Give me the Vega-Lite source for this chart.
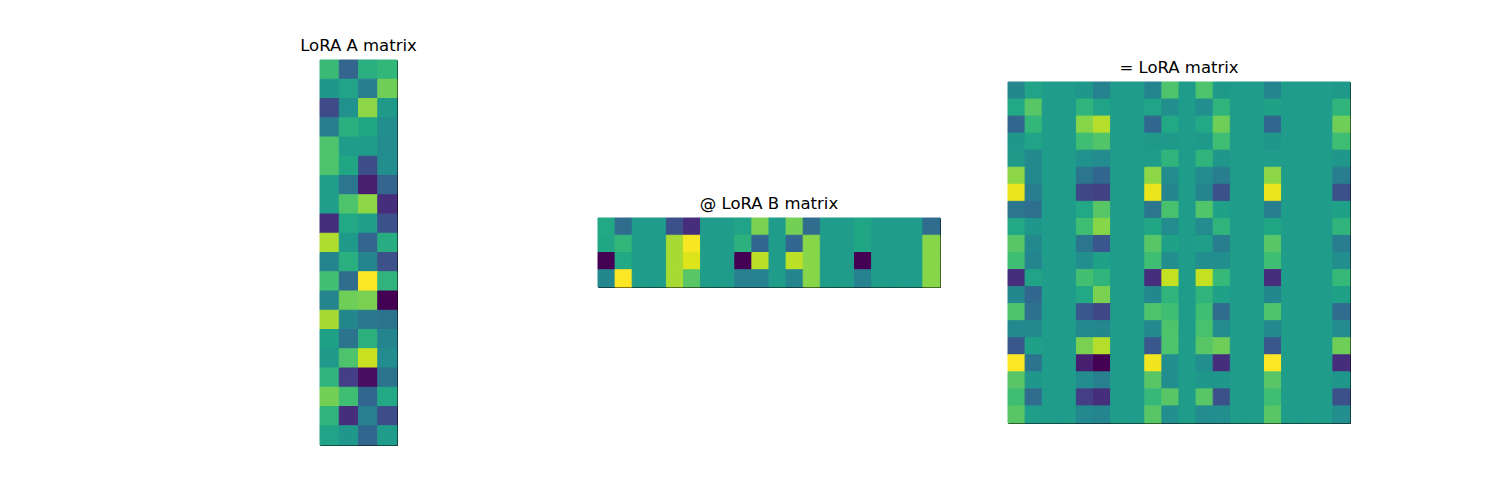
{
"$schema":"https://vega.github.io/schema/vega-lite/v6.json",
"background":"white",
"padding":{"left":299,"top":37,"right":5,"bottom":5},
"config":{"view":{"stroke":"black","strokeWidth":1},"title":{"font":"DejaVu Sans","fontSize":16.5,"fontWeight":"normal","color":"black","offset":5}},
"datasets":{
"A":[
{"r":0,"c":0,"v":0.68},{"r":0,"c":1,"v":0.32},{"r":0,"c":2,"v":0.63},{"r":0,"c":3,"v":0.66},
{"r":1,"c":0,"v":0.53},{"r":1,"c":1,"v":0.58},{"r":1,"c":2,"v":0.42},{"r":1,"c":3,"v":0.78},
{"r":2,"c":0,"v":0.22},{"r":2,"c":1,"v":0.50},{"r":2,"c":2,"v":0.83},{"r":2,"c":3,"v":0.54},
{"r":3,"c":0,"v":0.42},{"r":3,"c":1,"v":0.63},{"r":3,"c":2,"v":0.59},{"r":3,"c":3,"v":0.49},
{"r":4,"c":0,"v":0.72},{"r":4,"c":1,"v":0.55},{"r":4,"c":2,"v":0.55},{"r":4,"c":3,"v":0.48},
{"r":5,"c":0,"v":0.72},{"r":5,"c":1,"v":0.59},{"r":5,"c":2,"v":0.23},{"r":5,"c":3,"v":0.49},
{"r":6,"c":0,"v":0.56},{"r":6,"c":1,"v":0.39},{"r":6,"c":2,"v":0.08},{"r":6,"c":3,"v":0.32},
{"r":7,"c":0,"v":0.56},{"r":7,"c":1,"v":0.72},{"r":7,"c":2,"v":0.83},{"r":7,"c":3,"v":0.13},
{"r":8,"c":0,"v":0.13},{"r":8,"c":1,"v":0.60},{"r":8,"c":2,"v":0.56},{"r":8,"c":3,"v":0.24},
{"r":9,"c":0,"v":0.88},{"r":9,"c":1,"v":0.54},{"r":9,"c":2,"v":0.32},{"r":9,"c":3,"v":0.62},
{"r":10,"c":0,"v":0.45},{"r":10,"c":1,"v":0.63},{"r":10,"c":2,"v":0.45},{"r":10,"c":3,"v":0.24},
{"r":11,"c":0,"v":0.70},{"r":11,"c":1,"v":0.35},{"r":11,"c":2,"v":1.00},{"r":11,"c":3,"v":0.65},
{"r":12,"c":0,"v":0.45},{"r":12,"c":1,"v":0.78},{"r":12,"c":2,"v":0.80},{"r":12,"c":3,"v":0.00},
{"r":13,"c":0,"v":0.87},{"r":13,"c":1,"v":0.46},{"r":13,"c":2,"v":0.40},{"r":13,"c":3,"v":0.38},
{"r":14,"c":0,"v":0.57},{"r":14,"c":1,"v":0.38},{"r":14,"c":2,"v":0.64},{"r":14,"c":3,"v":0.45},
{"r":15,"c":0,"v":0.54},{"r":15,"c":1,"v":0.72},{"r":15,"c":2,"v":0.92},{"r":15,"c":3,"v":0.48},
{"r":16,"c":0,"v":0.65},{"r":16,"c":1,"v":0.18},{"r":16,"c":2,"v":0.03},{"r":16,"c":3,"v":0.38},
{"r":17,"c":0,"v":0.79},{"r":17,"c":1,"v":0.69},{"r":17,"c":2,"v":0.33},{"r":17,"c":3,"v":0.60},
{"r":18,"c":0,"v":0.65},{"r":18,"c":1,"v":0.13},{"r":18,"c":2,"v":0.43},{"r":18,"c":3,"v":0.23},
{"r":19,"c":0,"v":0.58},{"r":19,"c":1,"v":0.53},{"r":19,"c":2,"v":0.33},{"r":19,"c":3,"v":0.55}
],
"B":[
{"r":0,"c":0,"v":0.60},{"r":0,"c":1,"v":0.35},{"r":0,"c":2,"v":0.55},{"r":0,"c":3,"v":0.55},{"r":0,"c":4,"v":0.24},{"r":0,"c":5,"v":0.13},{"r":0,"c":6,"v":0.55},{"r":0,"c":7,"v":0.55},{"r":0,"c":8,"v":0.58},{"r":0,"c":9,"v":0.80},{"r":0,"c":10,"v":0.55},{"r":0,"c":11,"v":0.79},{"r":0,"c":12,"v":0.35},{"r":0,"c":13,"v":0.55},{"r":0,"c":14,"v":0.55},{"r":0,"c":15,"v":0.59},{"r":0,"c":16,"v":0.55},{"r":0,"c":17,"v":0.55},{"r":0,"c":18,"v":0.55},{"r":0,"c":19,"v":0.35},
{"r":1,"c":0,"v":0.59},{"r":1,"c":1,"v":0.66},{"r":1,"c":2,"v":0.55},{"r":1,"c":3,"v":0.55},{"r":1,"c":4,"v":0.87},{"r":1,"c":5,"v":0.99},{"r":1,"c":6,"v":0.55},{"r":1,"c":7,"v":0.55},{"r":1,"c":8,"v":0.64},{"r":1,"c":9,"v":0.33},{"r":1,"c":10,"v":0.55},{"r":1,"c":11,"v":0.33},{"r":1,"c":12,"v":0.82},{"r":1,"c":13,"v":0.55},{"r":1,"c":14,"v":0.55},{"r":1,"c":15,"v":0.59},{"r":1,"c":16,"v":0.55},{"r":1,"c":17,"v":0.55},{"r":1,"c":18,"v":0.55},{"r":1,"c":19,"v":0.82},
{"r":2,"c":0,"v":0.00},{"r":2,"c":1,"v":0.60},{"r":2,"c":2,"v":0.55},{"r":2,"c":3,"v":0.55},{"r":2,"c":4,"v":0.87},{"r":2,"c":5,"v":0.95},{"r":2,"c":6,"v":0.55},{"r":2,"c":7,"v":0.55},{"r":2,"c":8,"v":0.00},{"r":2,"c":9,"v":0.90},{"r":2,"c":10,"v":0.55},{"r":2,"c":11,"v":0.90},{"r":2,"c":12,"v":0.82},{"r":2,"c":13,"v":0.55},{"r":2,"c":14,"v":0.55},{"r":2,"c":15,"v":0.00},{"r":2,"c":16,"v":0.55},{"r":2,"c":17,"v":0.55},{"r":2,"c":18,"v":0.55},{"r":2,"c":19,"v":0.82},
{"r":3,"c":0,"v":0.46},{"r":3,"c":1,"v":1.00},{"r":3,"c":2,"v":0.55},{"r":3,"c":3,"v":0.55},{"r":3,"c":4,"v":0.87},{"r":3,"c":5,"v":0.74},{"r":3,"c":6,"v":0.55},{"r":3,"c":7,"v":0.55},{"r":3,"c":8,"v":0.43},{"r":3,"c":9,"v":0.44},{"r":3,"c":10,"v":0.55},{"r":3,"c":11,"v":0.45},{"r":3,"c":12,"v":0.82},{"r":3,"c":13,"v":0.55},{"r":3,"c":14,"v":0.55},{"r":3,"c":15,"v":0.44},{"r":3,"c":16,"v":0.55},{"r":3,"c":17,"v":0.55},{"r":3,"c":18,"v":0.55},{"r":3,"c":19,"v":0.82}
],
"C":[
{"r":0,"c":0,"v":0.46},{"r":0,"c":1,"v":0.58},{"r":0,"c":2,"v":0.55},{"r":0,"c":3,"v":0.55},{"r":0,"c":4,"v":0.53},{"r":0,"c":5,"v":0.44},{"r":0,"c":6,"v":0.55},{"r":0,"c":7,"v":0.55},{"r":0,"c":8,"v":0.45},{"r":0,"c":9,"v":0.72},{"r":0,"c":10,"v":0.55},{"r":0,"c":11,"v":0.72},{"r":0,"c":12,"v":0.54},{"r":0,"c":13,"v":0.55},{"r":0,"c":14,"v":0.55},{"r":0,"c":15,"v":0.45},{"r":0,"c":16,"v":0.55},{"r":0,"c":17,"v":0.55},{"r":0,"c":18,"v":0.55},{"r":0,"c":19,"v":0.54},
{"r":1,"c":0,"v":0.60},{"r":1,"c":1,"v":0.74},{"r":1,"c":2,"v":0.55},{"r":1,"c":3,"v":0.55},{"r":1,"c":4,"v":0.65},{"r":1,"c":5,"v":0.58},{"r":1,"c":6,"v":0.55},{"r":1,"c":7,"v":0.55},{"r":1,"c":8,"v":0.58},{"r":1,"c":9,"v":0.49},{"r":1,"c":10,"v":0.55},{"r":1,"c":11,"v":0.49},{"r":1,"c":12,"v":0.65},{"r":1,"c":13,"v":0.55},{"r":1,"c":14,"v":0.55},{"r":1,"c":15,"v":0.57},{"r":1,"c":16,"v":0.55},{"r":1,"c":17,"v":0.55},{"r":1,"c":18,"v":0.55},{"r":1,"c":19,"v":0.65},
{"r":2,"c":0,"v":0.33},{"r":2,"c":1,"v":0.66},{"r":2,"c":2,"v":0.55},{"r":2,"c":3,"v":0.55},{"r":2,"c":4,"v":0.82},{"r":2,"c":5,"v":0.89},{"r":2,"c":6,"v":0.55},{"r":2,"c":7,"v":0.55},{"r":2,"c":8,"v":0.33},{"r":2,"c":9,"v":0.60},{"r":2,"c":10,"v":0.55},{"r":2,"c":11,"v":0.60},{"r":2,"c":12,"v":0.78},{"r":2,"c":13,"v":0.55},{"r":2,"c":14,"v":0.55},{"r":2,"c":15,"v":0.33},{"r":2,"c":16,"v":0.55},{"r":2,"c":17,"v":0.55},{"r":2,"c":18,"v":0.55},{"r":2,"c":19,"v":0.78},
{"r":3,"c":0,"v":0.53},{"r":3,"c":1,"v":0.58},{"r":3,"c":2,"v":0.55},{"r":3,"c":3,"v":0.55},{"r":3,"c":4,"v":0.69},{"r":3,"c":5,"v":0.73},{"r":3,"c":6,"v":0.55},{"r":3,"c":7,"v":0.55},{"r":3,"c":8,"v":0.54},{"r":3,"c":9,"v":0.54},{"r":3,"c":10,"v":0.55},{"r":3,"c":11,"v":0.54},{"r":3,"c":12,"v":0.69},{"r":3,"c":13,"v":0.55},{"r":3,"c":14,"v":0.55},{"r":3,"c":15,"v":0.53},{"r":3,"c":16,"v":0.55},{"r":3,"c":17,"v":0.55},{"r":3,"c":18,"v":0.55},{"r":3,"c":19,"v":0.69},
{"r":4,"c":0,"v":0.54},{"r":4,"c":1,"v":0.47},{"r":4,"c":2,"v":0.55},{"r":4,"c":3,"v":0.55},{"r":4,"c":4,"v":0.50},{"r":4,"c":5,"v":0.48},{"r":4,"c":6,"v":0.55},{"r":4,"c":7,"v":0.55},{"r":4,"c":8,"v":0.55},{"r":4,"c":9,"v":0.65},{"r":4,"c":10,"v":0.55},{"r":4,"c":11,"v":0.65},{"r":4,"c":12,"v":0.53},{"r":4,"c":13,"v":0.55},{"r":4,"c":14,"v":0.55},{"r":4,"c":15,"v":0.55},{"r":4,"c":16,"v":0.55},{"r":4,"c":17,"v":0.55},{"r":4,"c":18,"v":0.55},{"r":4,"c":19,"v":0.53},
{"r":5,"c":0,"v":0.83},{"r":5,"c":1,"v":0.47},{"r":5,"c":2,"v":0.55},{"r":5,"c":3,"v":0.55},{"r":5,"c":4,"v":0.39},{"r":5,"c":5,"v":0.33},{"r":5,"c":6,"v":0.55},{"r":5,"c":7,"v":0.55},{"r":5,"c":8,"v":0.83},{"r":5,"c":9,"v":0.48},{"r":5,"c":10,"v":0.55},{"r":5,"c":11,"v":0.48},{"r":5,"c":12,"v":0.42},{"r":5,"c":13,"v":0.55},{"r":5,"c":14,"v":0.55},{"r":5,"c":15,"v":0.83},{"r":5,"c":16,"v":0.55},{"r":5,"c":17,"v":0.55},{"r":5,"c":18,"v":0.55},{"r":5,"c":19,"v":0.42},
{"r":6,"c":0,"v":0.97},{"r":6,"c":1,"v":0.42},{"r":6,"c":2,"v":0.55},{"r":6,"c":3,"v":0.55},{"r":6,"c":4,"v":0.21},{"r":6,"c":5,"v":0.19},{"r":6,"c":6,"v":0.55},{"r":6,"c":7,"v":0.55},{"r":6,"c":8,"v":0.97},{"r":6,"c":9,"v":0.45},{"r":6,"c":10,"v":0.55},{"r":6,"c":11,"v":0.45},{"r":6,"c":12,"v":0.24},{"r":6,"c":13,"v":0.55},{"r":6,"c":14,"v":0.55},{"r":6,"c":15,"v":0.97},{"r":6,"c":16,"v":0.55},{"r":6,"c":17,"v":0.55},{"r":6,"c":18,"v":0.55},{"r":6,"c":19,"v":0.24},
{"r":7,"c":0,"v":0.39},{"r":7,"c":1,"v":0.36},{"r":7,"c":2,"v":0.55},{"r":7,"c":3,"v":0.55},{"r":7,"c":4,"v":0.60},{"r":7,"c":5,"v":0.74},{"r":7,"c":6,"v":0.55},{"r":7,"c":7,"v":0.55},{"r":7,"c":8,"v":0.39},{"r":7,"c":9,"v":0.71},{"r":7,"c":10,"v":0.55},{"r":7,"c":11,"v":0.73},{"r":7,"c":12,"v":0.57},{"r":7,"c":13,"v":0.55},{"r":7,"c":14,"v":0.55},{"r":7,"c":15,"v":0.42},{"r":7,"c":16,"v":0.55},{"r":7,"c":17,"v":0.55},{"r":7,"c":18,"v":0.55},{"r":7,"c":19,"v":0.57},
{"r":8,"c":0,"v":0.60},{"r":8,"c":1,"v":0.53},{"r":8,"c":2,"v":0.55},{"r":8,"c":3,"v":0.55},{"r":8,"c":4,"v":0.69},{"r":8,"c":5,"v":0.82},{"r":8,"c":6,"v":0.55},{"r":8,"c":7,"v":0.55},{"r":8,"c":8,"v":0.59},{"r":8,"c":9,"v":0.48},{"r":8,"c":10,"v":0.55},{"r":8,"c":11,"v":0.48},{"r":8,"c":12,"v":0.65},{"r":8,"c":13,"v":0.55},{"r":8,"c":14,"v":0.55},{"r":8,"c":15,"v":0.59},{"r":8,"c":16,"v":0.55},{"r":8,"c":17,"v":0.55},{"r":8,"c":18,"v":0.55},{"r":8,"c":19,"v":0.65},
{"r":9,"c":0,"v":0.74},{"r":9,"c":1,"v":0.47},{"r":9,"c":2,"v":0.55},{"r":9,"c":3,"v":0.55},{"r":9,"c":4,"v":0.39},{"r":9,"c":5,"v":0.27},{"r":9,"c":6,"v":0.55},{"r":9,"c":7,"v":0.55},{"r":9,"c":8,"v":0.74},{"r":9,"c":9,"v":0.57},{"r":9,"c":10,"v":0.55},{"r":9,"c":11,"v":0.56},{"r":9,"c":12,"v":0.42},{"r":9,"c":13,"v":0.55},{"r":9,"c":14,"v":0.55},{"r":9,"c":15,"v":0.74},{"r":9,"c":16,"v":0.55},{"r":9,"c":17,"v":0.55},{"r":9,"c":18,"v":0.55},{"r":9,"c":19,"v":0.42},
{"r":10,"c":0,"v":0.69},{"r":10,"c":1,"v":0.45},{"r":10,"c":2,"v":0.55},{"r":10,"c":3,"v":0.55},{"r":10,"c":4,"v":0.49},{"r":10,"c":5,"v":0.57},{"r":10,"c":6,"v":0.55},{"r":10,"c":7,"v":0.55},{"r":10,"c":8,"v":0.69},{"r":10,"c":9,"v":0.49},{"r":10,"c":10,"v":0.55},{"r":10,"c":11,"v":0.49},{"r":10,"c":12,"v":0.49},{"r":10,"c":13,"v":0.55},{"r":10,"c":14,"v":0.55},{"r":10,"c":15,"v":0.69},{"r":10,"c":16,"v":0.55},{"r":10,"c":17,"v":0.55},{"r":10,"c":18,"v":0.55},{"r":10,"c":19,"v":0.49},
{"r":11,"c":0,"v":0.13},{"r":11,"c":1,"v":0.58},{"r":11,"c":2,"v":0.55},{"r":11,"c":3,"v":0.55},{"r":11,"c":4,"v":0.70},{"r":11,"c":5,"v":0.65},{"r":11,"c":6,"v":0.55},{"r":11,"c":7,"v":0.55},{"r":11,"c":8,"v":0.13},{"r":11,"c":9,"v":0.91},{"r":11,"c":10,"v":0.55},{"r":11,"c":11,"v":0.91},{"r":11,"c":12,"v":0.67},{"r":11,"c":13,"v":0.55},{"r":11,"c":14,"v":0.55},{"r":11,"c":15,"v":0.13},{"r":11,"c":16,"v":0.55},{"r":11,"c":17,"v":0.55},{"r":11,"c":18,"v":0.55},{"r":11,"c":19,"v":0.67},
{"r":12,"c":0,"v":0.46},{"r":12,"c":1,"v":0.33},{"r":12,"c":2,"v":0.55},{"r":12,"c":3,"v":0.55},{"r":12,"c":4,"v":0.60},{"r":12,"c":5,"v":0.80},{"r":12,"c":6,"v":0.55},{"r":12,"c":7,"v":0.55},{"r":12,"c":8,"v":0.46},{"r":12,"c":9,"v":0.65},{"r":12,"c":10,"v":0.55},{"r":12,"c":11,"v":0.65},{"r":12,"c":12,"v":0.57},{"r":12,"c":13,"v":0.55},{"r":12,"c":14,"v":0.55},{"r":12,"c":15,"v":0.46},{"r":12,"c":16,"v":0.55},{"r":12,"c":17,"v":0.55},{"r":12,"c":18,"v":0.55},{"r":12,"c":19,"v":0.57},
{"r":13,"c":0,"v":0.72},{"r":13,"c":1,"v":0.37},{"r":13,"c":2,"v":0.55},{"r":13,"c":3,"v":0.55},{"r":13,"c":4,"v":0.27},{"r":13,"c":5,"v":0.21},{"r":13,"c":6,"v":0.55},{"r":13,"c":7,"v":0.55},{"r":13,"c":8,"v":0.72},{"r":13,"c":9,"v":0.69},{"r":13,"c":10,"v":0.55},{"r":13,"c":11,"v":0.69},{"r":13,"c":12,"v":0.35},{"r":13,"c":13,"v":0.55},{"r":13,"c":14,"v":0.55},{"r":13,"c":15,"v":0.72},{"r":13,"c":16,"v":0.55},{"r":13,"c":17,"v":0.55},{"r":13,"c":18,"v":0.55},{"r":13,"c":19,"v":0.35},
{"r":14,"c":0,"v":0.47},{"r":14,"c":1,"v":0.47},{"r":14,"c":2,"v":0.55},{"r":14,"c":3,"v":0.55},{"r":14,"c":4,"v":0.47},{"r":14,"c":5,"v":0.46},{"r":14,"c":6,"v":0.55},{"r":14,"c":7,"v":0.55},{"r":14,"c":8,"v":0.47},{"r":14,"c":9,"v":0.72},{"r":14,"c":10,"v":0.55},{"r":14,"c":11,"v":0.71},{"r":14,"c":12,"v":0.48},{"r":14,"c":13,"v":0.55},{"r":14,"c":14,"v":0.55},{"r":14,"c":15,"v":0.47},{"r":14,"c":16,"v":0.55},{"r":14,"c":17,"v":0.55},{"r":14,"c":18,"v":0.55},{"r":14,"c":19,"v":0.48},
{"r":15,"c":0,"v":0.27},{"r":15,"c":1,"v":0.57},{"r":15,"c":2,"v":0.55},{"r":15,"c":3,"v":0.55},{"r":15,"c":4,"v":0.80},{"r":15,"c":5,"v":0.89},{"r":15,"c":6,"v":0.55},{"r":15,"c":7,"v":0.55},{"r":15,"c":8,"v":0.27},{"r":15,"c":9,"v":0.72},{"r":15,"c":10,"v":0.55},{"r":15,"c":11,"v":0.74},{"r":15,"c":12,"v":0.78},{"r":15,"c":13,"v":0.55},{"r":15,"c":14,"v":0.55},{"r":15,"c":15,"v":0.27},{"r":15,"c":16,"v":0.55},{"r":15,"c":17,"v":0.55},{"r":15,"c":18,"v":0.55},{"r":15,"c":19,"v":0.78},
{"r":16,"c":0,"v":1.00},{"r":16,"c":1,"v":0.38},{"r":16,"c":2,"v":0.55},{"r":16,"c":3,"v":0.55},{"r":16,"c":4,"v":0.08},{"r":16,"c":5,"v":0.00},{"r":16,"c":6,"v":0.55},{"r":16,"c":7,"v":0.55},{"r":16,"c":8,"v":0.98},{"r":16,"c":9,"v":0.49},{"r":16,"c":10,"v":0.55},{"r":16,"c":11,"v":0.49},{"r":16,"c":12,"v":0.13},{"r":16,"c":13,"v":0.55},{"r":16,"c":14,"v":0.55},{"r":16,"c":15,"v":1.00},{"r":16,"c":16,"v":0.55},{"r":16,"c":17,"v":0.55},{"r":16,"c":18,"v":0.55},{"r":16,"c":19,"v":0.13},
{"r":17,"c":0,"v":0.74},{"r":17,"c":1,"v":0.53},{"r":17,"c":2,"v":0.55},{"r":17,"c":3,"v":0.55},{"r":17,"c":4,"v":0.48},{"r":17,"c":5,"v":0.43},{"r":17,"c":6,"v":0.55},{"r":17,"c":7,"v":0.55},{"r":17,"c":8,"v":0.74},{"r":17,"c":9,"v":0.49},{"r":17,"c":10,"v":0.55},{"r":17,"c":11,"v":0.53},{"r":17,"c":12,"v":0.53},{"r":17,"c":13,"v":0.55},{"r":17,"c":14,"v":0.55},{"r":17,"c":15,"v":0.74},{"r":17,"c":16,"v":0.55},{"r":17,"c":17,"v":0.55},{"r":17,"c":18,"v":0.55},{"r":17,"c":19,"v":0.53},
{"r":18,"c":0,"v":0.69},{"r":18,"c":1,"v":0.35},{"r":18,"c":2,"v":0.55},{"r":18,"c":3,"v":0.55},{"r":18,"c":4,"v":0.18},{"r":18,"c":5,"v":0.13},{"r":18,"c":6,"v":0.55},{"r":18,"c":7,"v":0.55},{"r":18,"c":8,"v":0.67},{"r":18,"c":9,"v":0.74},{"r":18,"c":10,"v":0.55},{"r":18,"c":11,"v":0.74},{"r":18,"c":12,"v":0.24},{"r":18,"c":13,"v":0.55},{"r":18,"c":14,"v":0.55},{"r":18,"c":15,"v":0.69},{"r":18,"c":16,"v":0.55},{"r":18,"c":17,"v":0.55},{"r":18,"c":18,"v":0.55},{"r":18,"c":19,"v":0.24},
{"r":19,"c":0,"v":0.74},{"r":19,"c":1,"v":0.56},{"r":19,"c":2,"v":0.55},{"r":19,"c":3,"v":0.55},{"r":19,"c":4,"v":0.47},{"r":19,"c":5,"v":0.45},{"r":19,"c":6,"v":0.55},{"r":19,"c":7,"v":0.55},{"r":19,"c":8,"v":0.74},{"r":19,"c":9,"v":0.49},{"r":19,"c":10,"v":0.55},{"r":19,"c":11,"v":0.48},{"r":19,"c":12,"v":0.49},{"r":19,"c":13,"v":0.55},{"r":19,"c":14,"v":0.55},{"r":19,"c":15,"v":0.74},{"r":19,"c":16,"v":0.55},{"r":19,"c":17,"v":0.55},{"r":19,"c":18,"v":0.55},{"r":19,"c":19,"v":0.49}
]
},
"bounds":"flush",
"center":true,
"spacing":68,
"hconcat":[
{"title":"LoRA A matrix","width":77,"height":385,"data":{"name":"A"},"mark":{"type":"rect","strokeWidth":1},
 "encoding":{"x":{"field":"c","type":"ordinal","axis":null},"y":{"field":"r","type":"ordinal","axis":null},
 "color":{"field":"v","type":"quantitative","scale":{"scheme":"viridis","domain":[0,1]},"legend":null},
 "stroke":{"field":"v","type":"quantitative","scale":{"scheme":"viridis","domain":[0,1]},"legend":null}}},
{"width":65,"height":20,"data":{"values":[]},"mark":"rule","encoding":{},"view":{"stroke":null}},
{"title":"@ LoRA B matrix","width":342,"height":69,"data":{"name":"B"},"mark":{"type":"rect","strokeWidth":1},
 "encoding":{"x":{"field":"c","type":"ordinal","axis":null},"y":{"field":"r","type":"ordinal","axis":null},
 "color":{"field":"v","type":"quantitative","scale":{"scheme":"viridis","domain":[0,1]},"legend":null},
 "stroke":{"field":"v","type":"quantitative","scale":{"scheme":"viridis","domain":[0,1]},"legend":null}}},
{"title":"= LoRA matrix","width":342,"height":341,"data":{"name":"C"},"mark":{"type":"rect","strokeWidth":1},
 "encoding":{"x":{"field":"c","type":"ordinal","axis":null},"y":{"field":"r","type":"ordinal","axis":null},
 "color":{"field":"v","type":"quantitative","scale":{"scheme":"viridis","domain":[0,1]},"legend":null},
 "stroke":{"field":"v","type":"quantitative","scale":{"scheme":"viridis","domain":[0,1]},"legend":null}}}
]
}
